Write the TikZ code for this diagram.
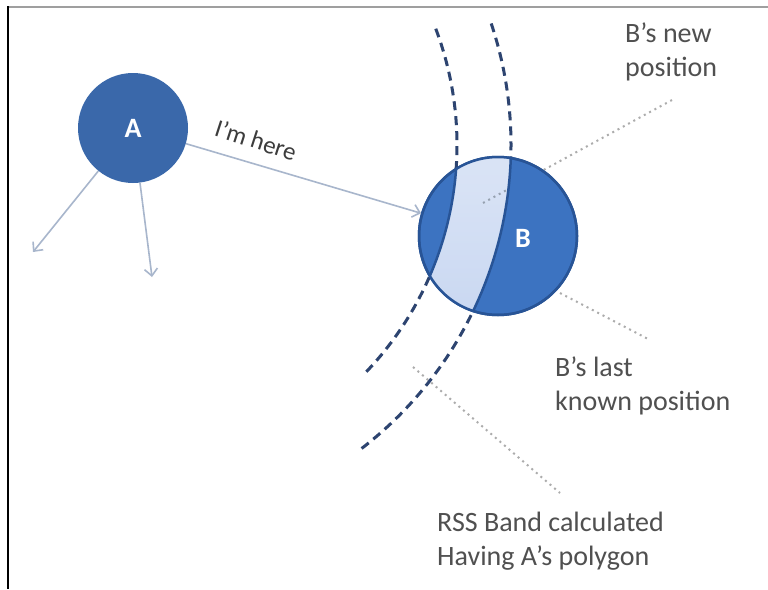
\documentclass[tikz,border=0pt]{standalone}
\usepackage{fontspec}
\setmainfont{Carlito}
\usetikzlibrary{arrows.meta}
\definecolor{nodeA}{RGB}{58,104,170}
\definecolor{nodeB}{RGB}{60,115,193}
\definecolor{rimB}{RGB}{40,84,150}
\definecolor{bandL}{RGB}{236,241,250}
\definecolor{bandD}{RGB}{184,203,237}
\definecolor{arcC}{RGB}{45,68,112}
\definecolor{arrowC}{RGB}{168,182,204}
\definecolor{leadC}{RGB}{172,172,172}
\definecolor{txtC}{RGB}{80,80,80}
\definecolor{msgC}{RGB}{60,60,60}
\begin{document}
\begin{tikzpicture}[x=1pt,y=-1pt,
  lbl/.style={font=\fontsize{28}{34}\selectfont, text=txtC, inner sep=0pt, anchor=north west, align=left},
  bandarc/.style={draw=arcC, line width=3pt, dash pattern=on 9pt off 6pt},
  innerarc/.style={draw=rimB, line width=2.5pt},
  leader/.style={draw=leadC, line width=2pt, dash pattern=on 2pt off 4pt},
  conn/.style={draw=arrowC, line width=1.6pt, -{Straight Barb[length=7pt,width=13pt]}}]
\useasboundingbox (0,0) rectangle (768,589);
\fill[white] (0,0) rectangle (768,589);
\draw[gray!75, line width=2pt] (7,6.5) -- (768,6.5);
\draw[black, line width=2pt] (8,6) -- (8,589);

\coordinate (O) at (128,145);
% RSS band dashed arcs
\draw[bandarc] ([shift={(-20.7:329)}]O) arc[start angle=-20.7, end angle=44, radius=329];
\draw[bandarc] ([shift={(-18.5:383)}]O) arc[start angle=-18.5, end angle=52.6, radius=383];

% leader lines (behind B)
\coordinate (newtip) at (672,100);
\coordinate (newend) at (483,203);
\coordinate (newmid) at (508.5,189);
\coordinate (lastA) at (560,293);
\coordinate (lastB) at (650,340);
\coordinate (rssA) at (413,367);
\coordinate (rssB) at (560,493);
\draw[leader] (newtip) -- (newend);
\draw[leader] (lastA) -- (lastB);
\draw[leader] (rssA) -- (rssB);

% node B
\node[circle, fill=nodeB, draw=rimB, line width=2.5pt, minimum size=158pt, inner sep=0pt] (B) at (498,236) {};
\begin{scope}
  \clip (B.center) circle[radius=79];
  \shade[top color=bandL, bottom color=bandD, middle color=bandL!60!bandD]
    ([shift={(-40:329)}]O) arc[start angle=-40, end angle=60, radius=329]
    -- ([shift={(60:383)}]O) arc[start angle=60, end angle=-40, radius=383] -- cycle;
  \draw[innerarc] ([shift={(-20.7:329)}]O) arc[start angle=-20.7, end angle=44, radius=329];
  \draw[innerarc] ([shift={(-18.5:383)}]O) arc[start angle=-18.5, end angle=52.6, radius=383];
  \draw[leader, draw=leadC!80!nodeB] (newend) -- (newmid);
\end{scope}
\draw[rimB, line width=2.5pt] (B.center) circle[radius=79];
\node[text=white, font=\bfseries\fontsize{28}{30}\selectfont, inner sep=0pt] (Bl) at (523,238) {B};

% node A
\node[circle, fill=nodeA, minimum size=110pt, inner sep=0pt, text=white, font=\bfseries\fontsize{28}{30}\selectfont] (A) at (133,128) {A};

% arrows from A
\coordinate (d1) at (33,252);
\coordinate (d2) at (152,277);
\draw[conn] (A) -- (B);
\draw[conn] (A) -- (d1);
\draw[conn] (A) -- (d2);
\node[font=\fontsize{25}{30}\selectfont, text=msgC, rotate=-18, inner sep=0pt] (msg) at (256,140) {I’m here};

% labels
\node[lbl] (newlbl) at (625,23) {B’s new\\position};
\node[lbl] (lastlbl) at (555,357) {B’s last\\known position};
\node[lbl] (rsslbl) at (437,512) {RSS Band calculated\\Having A’s polygon};
\end{tikzpicture}
\end{document}
